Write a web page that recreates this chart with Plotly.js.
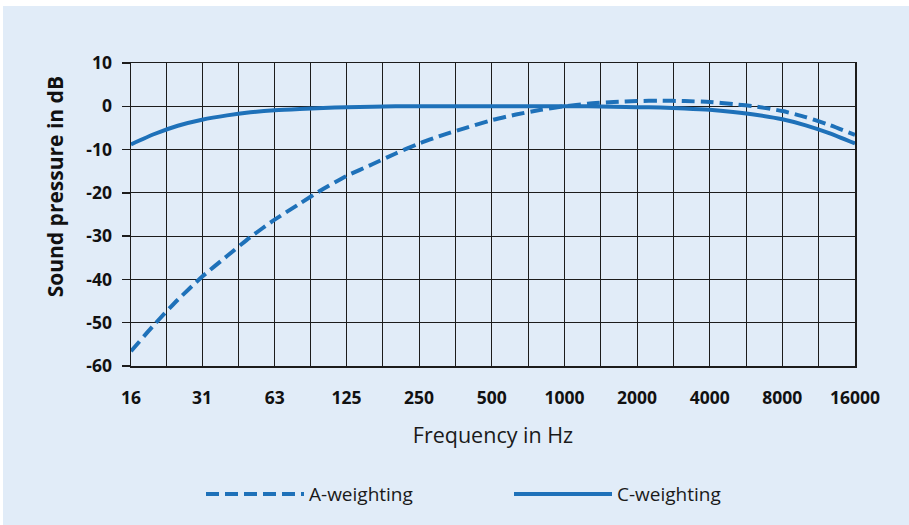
<!DOCTYPE html>
<html>
<head>
<meta charset="utf-8">
<script src="https://cdn.plot.ly/plotly-3.0.1.min.js"></script>
<style>
  html, body { margin: 0; padding: 0; background: #ffffff; }
  #chart { position: absolute; left: 3px; top: 6px; width: 906px; height: 519px; }
</style>
</head>
<body>
<div id="chart"></div>
<script>
// Frequencies (Hz), third-octave nominal values
const freqs = [16, 20, 25, 31.5, 40, 50, 63, 80, 100, 125, 160, 200, 250, 315, 400, 500, 630, 800, 1000,
               1250, 1600, 2000, 2500, 3150, 4000, 5000, 6300, 8000, 10000, 12500, 16000];
// A-weighting (dB)
const aWeight = [-56.6, -50.4, -44.7, -39.4, -34.6, -30.2, -26.2, -22.5, -19.1, -16.1, -13.4, -10.9, -8.6, -6.6, -4.8, -3.2, -1.9, -0.8, 0.0,
                 0.6, 1.0, 1.2, 1.3, 1.2, 1.0, 0.5, -0.1, -1.1, -2.5, -4.3, -6.6];
// C-weighting (dB)
const cWeight = [-8.8, -6.4, -4.5, -3.1, -2.1, -1.4, -0.9, -0.6, -0.4, -0.2, -0.1, 0.0, 0.0, 0.0, 0.0, 0.0, 0.0, 0.0, 0.0,
                 0.0, -0.1, -0.2, -0.3, -0.5, -0.8, -1.3, -2.0, -3.0, -4.4, -6.2, -8.6];
// Axis ticks
const xTickVals = [16, 31.5, 63, 125, 250, 500, 1000, 2000, 4000, 8000, 16000];
const xTickText = ['16', '31', '63', '125', '250', '500', '1000', '2000', '4000', '8000', '16000'];
const xHalfOctaves = [22.4, 44.5, 88.7, 177, 354, 707, 1414, 2828, 5657, 11314];
const yTickVals = [-60, -50, -40, -30, -20, -10, 0, 10];
const yTickText = ['-60', '-50', '-40', '-30', '-20', '-10', '0', '10'];
const seriesNames = ['A-weighting', 'C-weighting'];

const blue = '#1e71b9';
const bg = '#e1ecf8';
const gridCol = '#1c1c1c';
const font = '"Open Sans", "Noto Sans", sans-serif';

const allTickVals = xTickVals.concat(xHalfOctaves);
const allTickText = xTickText.concat(xHalfOctaves.map(() => ''));

const traces = [
  { x: freqs, y: aWeight, name: seriesNames[0], type: 'scatter', mode: 'lines',
    line: { color: blue, width: 4, dash: '13px,6px', shape: 'spline', smoothing: 0.6 } },
  { x: freqs, y: cWeight, name: seriesNames[1], type: 'scatter', mode: 'lines',
    line: { color: blue, width: 4, shape: 'spline', smoothing: 0.6 } }
];

const layout = {
  width: 906, height: 519,
  paper_bgcolor: bg, plot_bgcolor: bg,
  margin: { l: 128, r: 54, t: 57, b: 151 },
  font: { family: font, color: '#111111' },
  showlegend: true,
  legend: { orientation: 'h', x: 0.0967, xanchor: 'left', y: -0.423, yanchor: 'middle',
            font: { family: font, size: 19, color: '#1a1a1a' }, itemwidth: 98,
            bgcolor: 'rgba(0,0,0,0)', traceorder: 'normal', entrywidth: 195, entrywidthmode: 'pixels' },
  xaxis: {
    type: 'log', range: [Math.log10(16), Math.log10(16000)],
    tickmode: 'array', tickvals: allTickVals, ticktext: allTickText,
    showgrid: true, gridcolor: gridCol, gridwidth: 1,
    showline: true, linecolor: gridCol, linewidth: 1.5, mirror: true,
    ticks: 'outside', ticklen: 15, tickcolor: 'rgba(0,0,0,0)',
    tickfont: { family: font, size: 17.5, color: '#111', weight: 'bold' },
    title: { text: 'Frequency in Hz', font: { family: font, size: 21.5, color: '#1a1a1a' }, standoff: 20 },
    zeroline: false, fixedrange: true
  },
  yaxis: {
    range: [-60, 10], tickmode: 'array', tickvals: yTickVals, ticktext: yTickText,
    showgrid: true, gridcolor: gridCol, gridwidth: 1,
    showline: true, linecolor: gridCol, linewidth: 1.5, mirror: true,
    ticks: 'outside', ticklen: 8, tickcolor: gridCol, tickwidth: 1.5, ticklabelstandoff: 6,
    tickfont: { family: font, size: 17.5, color: '#111', weight: 'bold' },
    zeroline: false, fixedrange: true
  },
  annotations: [{
    text: 'Sound pressure in dB', xref: 'paper', yref: 'paper',
    x: -0.105, y: 0.593, xanchor: 'center', yanchor: 'middle', textangle: -90, showarrow: false,
    font: { family: font, size: 21, color: '#111', weight: 'bold' }
  }]
};

Plotly.newPlot('chart', traces, layout, { displayModeBar: false, staticPlot: true });
</script>
</body>
</html>
